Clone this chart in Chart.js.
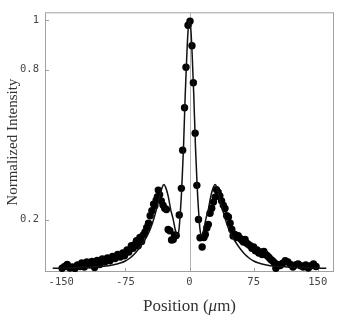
<!DOCTYPE html>
<html>
<head>
<meta charset="utf-8">
<script src="https://cdn.jsdelivr.net/npm/chart.js@4.4.1/dist/chart.umd.min.js"></script>
<style>
html,body{margin:0;padding:0;background:#fff;}
#wrap{width:342px;height:317px;position:relative;}
</style>
</head>
<body>
<div id="wrap"><canvas id="c"></canvas></div>
<script>
// ---- data ----
const xTicks = [-150, -75, 0, 75, 150];
const yTicks = [0.2, 0.8, 1];

// fitted curve
const fitX = [-160,-145,-130,-115,-100,-90,-80,-75,-70,-65,-60,-55,-50,-46,-42,-38,-35,-32,-30,-28,-25,-22,-19,-17,-15,-13.5,-12,-10.5,-9,-7,-5,-3,-1.5,0,
              1.5,3,5,7,9,10.5,12,13.5,15,17,19,22,25,28,30,32,35,38,42,46,50,55,60,65,70,75,80,90,100,115,130,145,160];
const fitY = [0.005,0.006,0.008,0.01,0.013,0.018,0.027,0.034,0.045,0.06,0.08,0.104,0.132,0.16,0.2,0.25,0.29,0.328,0.34,0.33,0.295,0.24,0.2,0.165,0.14,0.137,0.17,0.24,0.33,0.49,0.7,0.87,0.965,1.0,
              0.965,0.87,0.7,0.49,0.33,0.24,0.17,0.137,0.14,0.165,0.2,0.24,0.295,0.33,0.34,0.328,0.29,0.25,0.2,0.16,0.132,0.104,0.08,0.06,0.045,0.034,0.027,0.018,0.013,0.01,0.008,0.006,0.005];

// measured points
const dataX = [-149,-146,-143,-140,-137,-134,-131,-128,-126,-123,-120,-117,-114,-111,-108,-105,-102,-99,-96,-93,-90,-87,-84,-81,-78,-76,-73,-71,-68,-66,-64,-62,-60,-58,-56,-54,-52,-50,-48,-46,-44,-42,-40.5,-39,-37.5,-36.5,-35,-33,-31,-29,-27,-25,-23,-21,-19,-17.5,-15.5,-12,-9.5,-8,-5.8,-4.1,-1.7,0.6,2.9,4.5,6.6,8.6,10.5,12.3,14.8,16.9,18.5,20.2,22,24,26,28,30,31.5,33.5,35.5,37.5,39.5,41.5,43.5,45.5,47.5,49.5,51,53,55,57,59,61,63,65,67,69,71,73,75,77,79,81,83,85,87,89,91,93,95,97,99,101,103,106,109,112,115,118,121,124,127,130,133,136,139,142,145,148];
const dataY = [0.005,0.012,0.02,0.006,0.01,0.004,0.018,0.012,0.026,0.01,0.03,0.018,0.032,0.008,0.036,0.02,0.042,0.03,0.046,0.035,0.052,0.044,0.06,0.05,0.066,0.055,0.078,0.07,0.095,0.085,0.1,0.115,0.095,0.128,0.112,0.138,0.15,0.168,0.185,0.215,0.235,0.262,0.255,0.278,0.292,0.318,0.3,0.275,0.258,0.245,0.24,0.16,0.155,0.118,0.12,0.138,0.136,0.218,0.325,0.478,0.648,0.81,0.978,0.994,0.896,0.748,0.546,0.337,0.2,0.127,0.09,0.128,0.14,0.166,0.18,0.225,0.245,0.27,0.29,0.32,0.31,0.295,0.275,0.258,0.244,0.215,0.21,0.185,0.16,0.134,0.14,0.128,0.135,0.125,0.118,0.11,0.12,0.105,0.1,0.095,0.085,0.09,0.075,0.078,0.066,0.07,0.06,0.072,0.06,0.055,0.048,0.04,0.035,0.028,0.005,0.02,0.016,0.025,0.035,0.03,0.02,0.01,0.018,0.022,0.015,0.01,0.018,0.006,0.015,0.022,0.012];

const fitPts = fitX.map((x, i) => ({x: x, y: fitY[i]}));
const dataPts = dataX.map((x, i) => ({x: x, y: dataY[i]}));

const FRAME = '#a0a0a0';

const framePlugin = {
  id: 'frame',
  beforeDatasetsDraw(chart) {
    const {ctx, chartArea: a, scales: {x, y}} = chart;
    ctx.save();
    ctx.strokeStyle = FRAME;
    ctx.lineWidth = 1;
    ctx.strokeRect(a.left + 0.5, a.top + 0.5, a.right - a.left - 1, a.bottom - a.top - 1);
    // zero line
    const x0 = Math.round(x.getPixelForValue(0)) + 0.5;
    ctx.strokeStyle = '#b4b4b4';
    ctx.beginPath(); ctx.moveTo(x0, a.top); ctx.lineTo(x0, a.bottom); ctx.stroke();
    // inward ticks
    ctx.strokeStyle = FRAME;
    ctx.beginPath();
    xTicks.forEach(v => { const p = Math.round(x.getPixelForValue(v)) + 0.5; ctx.moveTo(p, a.bottom); ctx.lineTo(p, a.bottom - 4); });
    yTicks.forEach(v => { const p = Math.round(y.getPixelForValue(v)) + 0.5; ctx.moveTo(a.left, p); ctx.lineTo(a.left + 4, p); });
    ctx.stroke();
    ctx.restore();
  },
  afterDraw(chart) {
    const {ctx, chartArea: a} = chart;
    ctx.save();
    ctx.fillStyle = '#333';
    ctx.textBaseline = 'alphabetic';
    const parts = [['Position (', '17px "Liberation Serif"'], ['\u03BC', 'italic 17px "Liberation Serif"'], ['m)', '17px "Liberation Serif"']];
    let total = 0;
    parts.forEach(p => { ctx.font = p[1]; total += ctx.measureText(p[0]).width; });
    let xx = (a.left + a.right) / 2 - total / 2;
    parts.forEach(p => { ctx.font = p[1]; ctx.fillText(p[0], xx, 311); xx += ctx.measureText(p[0]).width; });
    ctx.restore();
  }
};

new Chart(document.getElementById('c'), {
  type: 'scatter',
  data: {
    datasets: [
      {
        type: 'scatter',
        data: dataPts,
        pointRadius: 3.7,
        pointBackgroundColor: '#000',
        pointBorderColor: '#000',
        pointBorderWidth: 0,
        order: 2
      },
      {
        type: 'line',
        data: fitPts,
        borderColor: '#111',
        borderWidth: 1.5,
        pointRadius: 0,
        fill: false,
        cubicInterpolationMode: 'monotone',
        order: 1
      }
    ]
  },
  options: {
    responsive: true,
    maintainAspectRatio: false,
    animation: false,
    layout: {padding: {top: 6, right: 8, left: 0, bottom: 0}},
    plugins: {legend: {display: false}, tooltip: {enabled: false}},
    scales: {
      x: {
        type: 'linear',
        min: -169, max: 169,
        afterBuildTicks(s) { s.ticks = xTicks.map(v => ({value: v})); },
        afterFit(s) { s.height = 45; },
        grid: {display: false, drawTicks: false},
        border: {display: false},
        ticks: {
          padding: 4,
          color: '#444',
          font: {family: '"DejaVu Sans Mono", monospace', size: 10.5},
          maxRotation: 0,
          callback: v => String(v)
        },
        title: {display: false}
      },
      y: {
        type: 'linear',
        min: -0.01, max: 1.03,
        afterBuildTicks(s) { s.ticks = yTicks.map(v => ({value: v})); },
        afterFit(s) { s.width = 45; },
        grid: {display: false, drawTicks: false},
        border: {display: false},
        ticks: {
          padding: 6,
          color: '#444',
          font: {family: '"DejaVu Sans Mono", monospace', size: 10.5},
          callback: v => String(v)
        },
        title: {
          display: true,
          text: 'Normalized Intensity',
          color: '#333',
          font: {family: '"Liberation Serif", serif', size: 15},
          padding: {top: 4, bottom: 0}
        }
      }
    }
  },
  plugins: [framePlugin]
});
</script>
</body>
</html>
